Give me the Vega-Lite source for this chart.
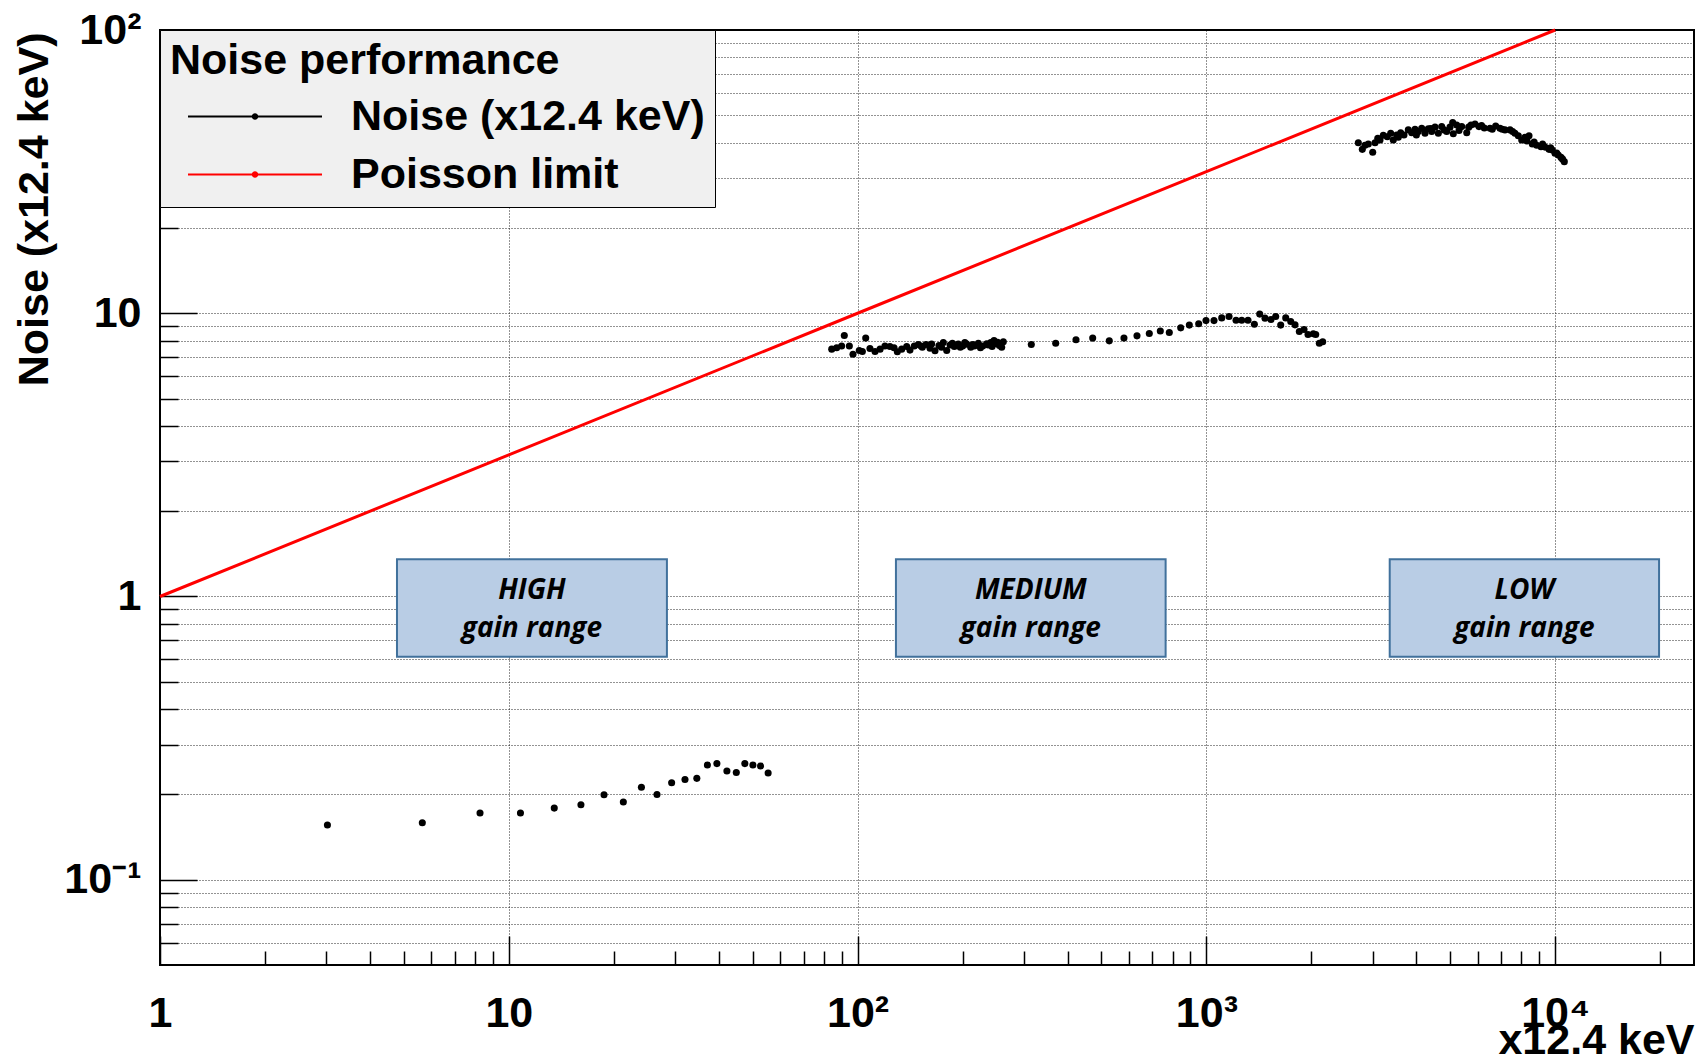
{
  "$schema": "https://vega.github.io/schema/vega-lite/v6.json",
  "width": 1534,
  "height": 935,
  "autosize": {"type": "none"},
  "padding": {"left": 160, "top": 30, "right": 3, "bottom": 97},
  "background": "white",
  "config": {"view": {"stroke": "black", "strokeWidth": 2}, "font": "Liberation Sans"},
  "datasets": {
    "boxes": [
      {"x": 4.78, "xe": 28.4, "y": 0.613, "ye": 1.353},
      {"x": 128.8, "xe": 764, "y": 0.613, "ye": 1.353},
      {"x": 3354, "xe": 19850, "y": 0.613, "ye": 1.353}
    ],
    "labels": [
      {"x": 11.65, "y": 1.046, "text": "HIGH\ngain range"},
      {"x": 313.7, "y": 1.046, "text": "MEDIUM\ngain range"},
      {"x": 8160, "y": 1.046, "text": "LOW\ngain range"}
    ],
    "poisson": [
      {"x": 1, "y": 1, "series": "Poisson limit"},
      {"x": 10, "y": 3.162, "series": "Poisson limit"},
      {"x": 100, "y": 10, "series": "Poisson limit"},
      {"x": 1000, "y": 31.62, "series": "Poisson limit"},
      {"x": 10000, "y": 100, "series": "Poisson limit"}
    ],
    "noise": [
      {"x": 3.02, "y": 0.156, "series": "Noise (x12.4 keV)"},
      {"x": 5.65, "y": 0.159, "series": "Noise (x12.4 keV)"},
      {"x": 8.27, "y": 0.172, "series": "Noise (x12.4 keV)"},
      {"x": 10.8, "y": 0.172, "series": "Noise (x12.4 keV)"},
      {"x": 13.5, "y": 0.179, "series": "Noise (x12.4 keV)"},
      {"x": 16.1, "y": 0.184, "series": "Noise (x12.4 keV)"},
      {"x": 18.75, "y": 0.1995, "series": "Noise (x12.4 keV)"},
      {"x": 21.3, "y": 0.188, "series": "Noise (x12.4 keV)"},
      {"x": 24.0, "y": 0.212, "series": "Noise (x12.4 keV)"},
      {"x": 26.6, "y": 0.2, "series": "Noise (x12.4 keV)"},
      {"x": 29.3, "y": 0.22, "series": "Noise (x12.4 keV)"},
      {"x": 32.0, "y": 0.226, "series": "Noise (x12.4 keV)"},
      {"x": 34.6, "y": 0.228, "series": "Noise (x12.4 keV)"},
      {"x": 37.1, "y": 0.254, "series": "Noise (x12.4 keV)"},
      {"x": 39.5, "y": 0.257, "series": "Noise (x12.4 keV)"},
      {"x": 42.2, "y": 0.242, "series": "Noise (x12.4 keV)"},
      {"x": 44.9, "y": 0.239, "series": "Noise (x12.4 keV)"},
      {"x": 47.5, "y": 0.257, "series": "Noise (x12.4 keV)"},
      {"x": 50.1, "y": 0.254, "series": "Noise (x12.4 keV)"},
      {"x": 52.7, "y": 0.252, "series": "Noise (x12.4 keV)"},
      {"x": 55.4, "y": 0.238, "series": "Noise (x12.4 keV)"},
      {"x": 84.3, "y": 7.47, "series": "Noise (x12.4 keV)"},
      {"x": 87.1, "y": 7.55, "series": "Noise (x12.4 keV)"},
      {"x": 90.0, "y": 7.66, "series": "Noise (x12.4 keV)"},
      {"x": 91.6, "y": 8.34, "series": "Noise (x12.4 keV)"},
      {"x": 94.7, "y": 7.66, "series": "Noise (x12.4 keV)"},
      {"x": 97.0, "y": 7.17, "series": "Noise (x12.4 keV)"},
      {"x": 101.1, "y": 7.39, "series": "Noise (x12.4 keV)"},
      {"x": 103.2, "y": 7.33, "series": "Noise (x12.4 keV)"},
      {"x": 105.5, "y": 8.17, "series": "Noise (x12.4 keV)"},
      {"x": 108.5, "y": 7.51, "series": "Noise (x12.4 keV)"},
      {"x": 112.2, "y": 7.33, "series": "Noise (x12.4 keV)"},
      {"x": 116.0, "y": 7.47, "series": "Noise (x12.4 keV)"},
      {"x": 119.8, "y": 7.66, "series": "Noise (x12.4 keV)"},
      {"x": 123.8, "y": 7.63, "series": "Noise (x12.4 keV)"},
      {"x": 127.2, "y": 7.55, "series": "Noise (x12.4 keV)"},
      {"x": 130.0, "y": 7.31, "series": "Noise (x12.4 keV)"},
      {"x": 133.8, "y": 7.47, "series": "Noise (x12.4 keV)"},
      {"x": 138.3, "y": 7.63, "series": "Noise (x12.4 keV)"},
      {"x": 141.3, "y": 7.41, "series": "Noise (x12.4 keV)"},
      {"x": 145.4, "y": 7.66, "series": "Noise (x12.4 keV)"},
      {"x": 149.3, "y": 7.76, "series": "Noise (x12.4 keV)"},
      {"x": 152.0, "y": 7.66, "series": "Noise (x12.4 keV)"},
      {"x": 153.3, "y": 7.59, "series": "Noise (x12.4 keV)"},
      {"x": 157.1, "y": 7.76, "series": "Noise (x12.4 keV)"},
      {"x": 161.3, "y": 7.53, "series": "Noise (x12.4 keV)"},
      {"x": 163.0, "y": 7.78, "series": "Noise (x12.4 keV)"},
      {"x": 166.7, "y": 7.37, "series": "Noise (x12.4 keV)"},
      {"x": 171.1, "y": 7.69, "series": "Noise (x12.4 keV)"},
      {"x": 174.0, "y": 7.59, "series": "Noise (x12.4 keV)"},
      {"x": 176.1, "y": 7.88, "series": "Noise (x12.4 keV)"},
      {"x": 180.1, "y": 7.39, "series": "Noise (x12.4 keV)"},
      {"x": 184.1, "y": 7.72, "series": "Noise (x12.4 keV)"},
      {"x": 187.0, "y": 7.84, "series": "Noise (x12.4 keV)"},
      {"x": 189.3, "y": 7.63, "series": "Noise (x12.4 keV)"},
      {"x": 194.4, "y": 7.78, "series": "Noise (x12.4 keV)"},
      {"x": 197.0, "y": 7.59, "series": "Noise (x12.4 keV)"},
      {"x": 200.1, "y": 7.67, "series": "Noise (x12.4 keV)"},
      {"x": 203.0, "y": 7.88, "series": "Noise (x12.4 keV)"},
      {"x": 205.5, "y": 7.78, "series": "Noise (x12.4 keV)"},
      {"x": 211.0, "y": 7.59, "series": "Noise (x12.4 keV)"},
      {"x": 214.0, "y": 7.76, "series": "Noise (x12.4 keV)"},
      {"x": 216.1, "y": 7.67, "series": "Noise (x12.4 keV)"},
      {"x": 221.9, "y": 7.84, "series": "Noise (x12.4 keV)"},
      {"x": 225.0, "y": 7.55, "series": "Noise (x12.4 keV)"},
      {"x": 228.4, "y": 7.66, "series": "Noise (x12.4 keV)"},
      {"x": 234.5, "y": 7.80, "series": "Noise (x12.4 keV)"},
      {"x": 237.0, "y": 7.72, "series": "Noise (x12.4 keV)"},
      {"x": 240.8, "y": 7.88, "series": "Noise (x12.4 keV)"},
      {"x": 243.0, "y": 7.63, "series": "Noise (x12.4 keV)"},
      {"x": 246.1, "y": 8.01, "series": "Noise (x12.4 keV)"},
      {"x": 249.4, "y": 7.80, "series": "Noise (x12.4 keV)"},
      {"x": 252.0, "y": 7.90, "series": "Noise (x12.4 keV)"},
      {"x": 255.0, "y": 7.70, "series": "Noise (x12.4 keV)"},
      {"x": 258.9, "y": 7.59, "series": "Noise (x12.4 keV)"},
      {"x": 261.7, "y": 7.93, "series": "Noise (x12.4 keV)"},
      {"x": 314.8, "y": 7.76, "series": "Noise (x12.4 keV)"},
      {"x": 369.8, "y": 7.84, "series": "Noise (x12.4 keV)"},
      {"x": 422.8, "y": 8.06, "series": "Noise (x12.4 keV)"},
      {"x": 472.1, "y": 8.17, "series": "Noise (x12.4 keV)"},
      {"x": 526.7, "y": 7.99, "series": "Noise (x12.4 keV)"},
      {"x": 580.3, "y": 8.17, "series": "Noise (x12.4 keV)"},
      {"x": 632.4, "y": 8.32, "series": "Noise (x12.4 keV)"},
      {"x": 686.0, "y": 8.48, "series": "Noise (x12.4 keV)"},
      {"x": 737.7, "y": 8.65, "series": "Noise (x12.4 keV)"},
      {"x": 782.8, "y": 8.55, "series": "Noise (x12.4 keV)"},
      {"x": 844.0, "y": 8.88, "series": "Noise (x12.4 keV)"},
      {"x": 893.4, "y": 9.08, "series": "Noise (x12.4 keV)"},
      {"x": 950.4, "y": 9.18, "series": "Noise (x12.4 keV)"},
      {"x": 997.4, "y": 9.42, "series": "Noise (x12.4 keV)"},
      {"x": 1051.5, "y": 9.42, "series": "Noise (x12.4 keV)"},
      {"x": 1106.5, "y": 9.63, "series": "Noise (x12.4 keV)"},
      {"x": 1161, "y": 9.74, "series": "Noise (x12.4 keV)"},
      {"x": 1216, "y": 9.45, "series": "Noise (x12.4 keV)"},
      {"x": 1262.6, "y": 9.45, "series": "Noise (x12.4 keV)"},
      {"x": 1316, "y": 9.45, "series": "Noise (x12.4 keV)"},
      {"x": 1372.5, "y": 9.15, "series": "Noise (x12.4 keV)"},
      {"x": 1421.9, "y": 9.93, "series": "Noise (x12.4 keV)"},
      {"x": 1472.3, "y": 9.61, "series": "Noise (x12.4 keV)"},
      {"x": 1531.8, "y": 9.50, "series": "Noise (x12.4 keV)"},
      {"x": 1580.2, "y": 9.74, "series": "Noise (x12.4 keV)"},
      {"x": 1633.2, "y": 9.08, "series": "Noise (x12.4 keV)"},
      {"x": 1688.3, "y": 9.63, "series": "Noise (x12.4 keV)"},
      {"x": 1744.9, "y": 9.35, "series": "Noise (x12.4 keV)"},
      {"x": 1795.1, "y": 9.10, "series": "Noise (x12.4 keV)"},
      {"x": 1846.7, "y": 8.62, "series": "Noise (x12.4 keV)"},
      {"x": 1905, "y": 8.76, "series": "Noise (x12.4 keV)"},
      {"x": 1956, "y": 8.41, "series": "Noise (x12.4 keV)"},
      {"x": 2025.6, "y": 8.46, "series": "Noise (x12.4 keV)"},
      {"x": 2058, "y": 8.41, "series": "Noise (x12.4 keV)"},
      {"x": 2107.5, "y": 7.84, "series": "Noise (x12.4 keV)"},
      {"x": 2155, "y": 7.93, "series": "Noise (x12.4 keV)"},
      {"x": 2726, "y": 40.0, "series": "Noise (x12.4 keV)"},
      {"x": 2799, "y": 37.9, "series": "Noise (x12.4 keV)"},
      {"x": 2849, "y": 39.2, "series": "Noise (x12.4 keV)"},
      {"x": 2912, "y": 39.6, "series": "Noise (x12.4 keV)"},
      {"x": 2998, "y": 37.0, "series": "Noise (x12.4 keV)"},
      {"x": 3044, "y": 40.0, "series": "Noise (x12.4 keV)"},
      {"x": 3100, "y": 41.5, "series": "Noise (x12.4 keV)"},
      {"x": 3146, "y": 40.9, "series": "Noise (x12.4 keV)"},
      {"x": 3215, "y": 42.5, "series": "Noise (x12.4 keV)"},
      {"x": 3301, "y": 42.0, "series": "Noise (x12.4 keV)"},
      {"x": 3376, "y": 43.2, "series": "Noise (x12.4 keV)"},
      {"x": 3434, "y": 40.9, "series": "Noise (x12.4 keV)"},
      {"x": 3512, "y": 42.6, "series": "Noise (x12.4 keV)"},
      {"x": 3550, "y": 41.8, "series": "Noise (x12.4 keV)"},
      {"x": 3606, "y": 43.4, "series": "Noise (x12.4 keV)"},
      {"x": 3685, "y": 42.6, "series": "Noise (x12.4 keV)"},
      {"x": 3792, "y": 44.4, "series": "Noise (x12.4 keV)"},
      {"x": 3878, "y": 43.4, "series": "Noise (x12.4 keV)"},
      {"x": 3964, "y": 44.6, "series": "Noise (x12.4 keV)"},
      {"x": 4000, "y": 42.6, "series": "Noise (x12.4 keV)"},
      {"x": 4051, "y": 43.8, "series": "Noise (x12.4 keV)"},
      {"x": 4143, "y": 45.0, "series": "Noise (x12.4 keV)"},
      {"x": 4234, "y": 43.2, "series": "Noise (x12.4 keV)"},
      {"x": 4327, "y": 44.8, "series": "Noise (x12.4 keV)"},
      {"x": 4400, "y": 44.9, "series": "Noise (x12.4 keV)"},
      {"x": 4425, "y": 43.8, "series": "Noise (x12.4 keV)"},
      {"x": 4523, "y": 45.4, "series": "Noise (x12.4 keV)"},
      {"x": 4623, "y": 43.2, "series": "Noise (x12.4 keV)"},
      {"x": 4727, "y": 45.6, "series": "Noise (x12.4 keV)"},
      {"x": 4800, "y": 44.4, "series": "Noise (x12.4 keV)"},
      {"x": 4885, "y": 43.8, "series": "Noise (x12.4 keV)"},
      {"x": 4993, "y": 45.4, "series": "Noise (x12.4 keV)"},
      {"x": 5083, "y": 47.1, "series": "Noise (x12.4 keV)"},
      {"x": 5103, "y": 43.0, "series": "Noise (x12.4 keV)"},
      {"x": 5218, "y": 46.2, "series": "Noise (x12.4 keV)"},
      {"x": 5300, "y": 44.2, "series": "Noise (x12.4 keV)"},
      {"x": 5395, "y": 45.6, "series": "Noise (x12.4 keV)"},
      {"x": 5577, "y": 43.4, "series": "Noise (x12.4 keV)"},
      {"x": 5650, "y": 45.4, "series": "Noise (x12.4 keV)"},
      {"x": 5737, "y": 46.2, "series": "Noise (x12.4 keV)"},
      {"x": 5890, "y": 46.6, "series": "Noise (x12.4 keV)"},
      {"x": 6047, "y": 45.6, "series": "Noise (x12.4 keV)"},
      {"x": 6150, "y": 46.0, "series": "Noise (x12.4 keV)"},
      {"x": 6263, "y": 45.1, "series": "Noise (x12.4 keV)"},
      {"x": 6503, "y": 45.0, "series": "Noise (x12.4 keV)"},
      {"x": 6600, "y": 44.6, "series": "Noise (x12.4 keV)"},
      {"x": 6751, "y": 45.8, "series": "Noise (x12.4 keV)"},
      {"x": 6945, "y": 45.0, "series": "Noise (x12.4 keV)"},
      {"x": 7050, "y": 44.6, "series": "Noise (x12.4 keV)"},
      {"x": 7178, "y": 44.4, "series": "Noise (x12.4 keV)"},
      {"x": 7421, "y": 44.4, "series": "Noise (x12.4 keV)"},
      {"x": 7550, "y": 43.8, "series": "Noise (x12.4 keV)"},
      {"x": 7667, "y": 43.2, "series": "Noise (x12.4 keV)"},
      {"x": 7838, "y": 42.3, "series": "Noise (x12.4 keV)"},
      {"x": 8017, "y": 40.9, "series": "Noise (x12.4 keV)"},
      {"x": 8193, "y": 41.8, "series": "Noise (x12.4 keV)"},
      {"x": 8300, "y": 40.6, "series": "Noise (x12.4 keV)"},
      {"x": 8413, "y": 42.3, "series": "Noise (x12.4 keV)"},
      {"x": 8598, "y": 39.6, "series": "Noise (x12.4 keV)"},
      {"x": 8700, "y": 40.2, "series": "Noise (x12.4 keV)"},
      {"x": 8851, "y": 39.2, "series": "Noise (x12.4 keV)"},
      {"x": 9106, "y": 38.7, "series": "Noise (x12.4 keV)"},
      {"x": 9200, "y": 39.6, "series": "Noise (x12.4 keV)"},
      {"x": 9350, "y": 38.6, "series": "Noise (x12.4 keV)"},
      {"x": 9600, "y": 37.9, "series": "Noise (x12.4 keV)"},
      {"x": 9700, "y": 38.4, "series": "Noise (x12.4 keV)"},
      {"x": 9810, "y": 37.7, "series": "Noise (x12.4 keV)"},
      {"x": 9986, "y": 36.7, "series": "Noise (x12.4 keV)"},
      {"x": 10100, "y": 36.8, "series": "Noise (x12.4 keV)"},
      {"x": 10206, "y": 36.2, "series": "Noise (x12.4 keV)"},
      {"x": 10390, "y": 35.5, "series": "Noise (x12.4 keV)"},
      {"x": 10500, "y": 35.0, "series": "Noise (x12.4 keV)"},
      {"x": 10620, "y": 34.3, "series": "Noise (x12.4 keV)"}
    ]
  },
  "encoding": {
    "x": {
      "field": "x", "type": "quantitative",
      "scale": {"type": "log", "domain": [1, 25000], "nice": false},
      "axis": {
        "orient": "bottom",
        "values": [1,2,3,4,5,6,7,8,9,10,20,30,40,50,60,70,80,90,100,200,300,400,500,600,700,800,900,1000,2000,3000,4000,5000,6000,7000,8000,9000,10000,20000],
        "domain": false,
        "ticks": true, "tickColor": "black", "tickWidth": 1.5,
        "tickSize": {"condition": {"test": "indexof([1,10,100,1000,10000], datum.value) >= 0", "value": -29}, "value": -14},
        "grid": true, "gridColor": "#000000", "gridDash": [1, 2], "gridWidth": 1,
        "gridOpacity": {"condition": {"test": "indexof([1,10,100,1000,10000], datum.value) >= 0", "value": 0.85}, "value": 0},
        "labelExpr": "datum.value == 1 ? '1' : datum.value == 10 ? '10' : datum.value == 100 ? '10²' : datum.value == 1000 ? '10³' : datum.value == 10000 ? '10⁴' : ''",
        "labelFont": "Liberation Sans", "labelFontSize": 43, "labelFontWeight": "bold", "labelColor": "black",
        "labelPadding": 56, "labelOverlap": false, "labelFlush": false, "labelBound": false, "labelBaseline": "top", "labelAlign": "center",
        "title": "x12.4 keV", "titleFont": "Liberation Sans", "titleFontSize": 43, "titleFontWeight": "bold", "titleColor": "black",
        "titleAnchor": "end", "titleAlign": "right", "titleBaseline": "alphabetic", "titleX": 1534, "titleY": 88
      }
    },
    "y": {
      "field": "y", "type": "quantitative",
      "scale": {"type": "log", "domain": [0.05, 100], "nice": false},
      "axis": {
        "orient": "left",
        "values": [0.06,0.07,0.08,0.09,0.1,0.2,0.3,0.4,0.5,0.6,0.7,0.8,0.9,1,2,3,4,5,6,7,8,9,10,20,30,40,50,60,70,80,90,100],
        "domain": false,
        "ticks": true, "tickColor": "black", "tickWidth": 1.5,
        "tickSize": {"condition": {"test": "indexof([0.1,1,10,100], datum.value) >= 0", "value": -37}, "value": -18},
        "grid": true, "gridColor": "#000000", "gridDash": [1, 2], "gridWidth": 1, "gridOpacity": 0.85,
        "labelExpr": "datum.value == 0.1 ? '10⁻¹' : datum.value == 1 ? '1' : datum.value == 10 ? '10' : datum.value == 100 ? '10²' : ''",
        "labelFont": "Liberation Sans", "labelFontSize": 43, "labelFontWeight": "bold", "labelColor": "black",
        "labelPadding": 56, "labelOverlap": false, "labelFlush": false, "labelBound": false, "labelBaseline": "middle", "labelAlign": "right",
        "title": "Noise (x12.4 keV)", "titleFont": "Liberation Sans", "titleFontSize": 43, "titleFontWeight": "bold", "titleColor": "black",
        "titleAngle": 270, "titleAnchor": "end", "titleAlign": "right", "titleBaseline": "alphabetic", "titleX": -113, "titleY": 2
      }
    }
  },
  "layer": [
    {
      "data": {"name": "noise"},
      "mark": {"type": "circle", "size": 50, "opacity": 1},
      "encoding": {
        "color": {
          "field": "series", "type": "nominal",
          "scale": {"domain": ["Noise (x12.4 keV)", "Poisson limit"], "range": ["black", "red"]},
          "legend": {
            "title": "Noise performance\u00a0\u00a0\u00a0\u00a0\u00a0\u00a0\u00a0\u00a0\u00a0\u00a0\u00a0\u00a0\u00a0\u00a0\u00a0\u00a0\u00a0\u00a0\u00a0\u00a0\u00a0\u00a0\u00a0\u00a0\u00a0\u00a0\u00a0\u00a0\u00a0\u00a0",
            "orient": "top-left", "offset": 0, "padding": 10,
            "fillColor": "#f0f0f0", "strokeColor": "black",
            "titleFont": "Liberation Sans", "titleFontSize": 43, "titleFontWeight": "bold", "titleColor": "black", "titlePadding": 12, "titleLimit": 2000,
            "labelFont": "Liberation Sans", "labelFontSize": 43, "labelFontWeight": "bold", "labelColor": "black", "labelLimit": 1000,
            "labelOffset": 74.5, "symbolOffset": 63.5, "symbolSize": 1122, "rowPadding": 14,
            "symbolType": "M-4,0H4M-0.13,0A0.13,0.13 0 1,1 0.13,0A0.13,0.13 0 1,1 -0.13,0Z",
            "symbolStrokeWidth": 2.2, "symbolOpacity": 1
          }
        }
      }
    },
    {
      "data": {"name": "poisson"},
      "mark": {"type": "line", "strokeWidth": 3},
      "encoding": {
        "color": {"field": "series", "type": "nominal", "scale": {"domain": ["Noise (x12.4 keV)", "Poisson limit"], "range": ["black", "red"]}}
      }
    },
    {
      "data": {"name": "boxes"},
      "mark": {"type": "rect", "fill": "#b9cde5", "stroke": "#41719c", "strokeWidth": 2},
      "encoding": {"x2": {"field": "xe"}, "y2": {"field": "ye"}}
    },
    {
      "data": {"name": "labels"},
      "mark": {"type": "text", "font": "Open Sans", "fontStyle": "italic", "fontWeight": "bold", "fontSize": 28, "lineBreak": "\n", "lineHeight": 38, "baseline": "middle", "align": "center", "color": "black"},
      "encoding": {"text": {"field": "text"}}
    }
  ]
}
